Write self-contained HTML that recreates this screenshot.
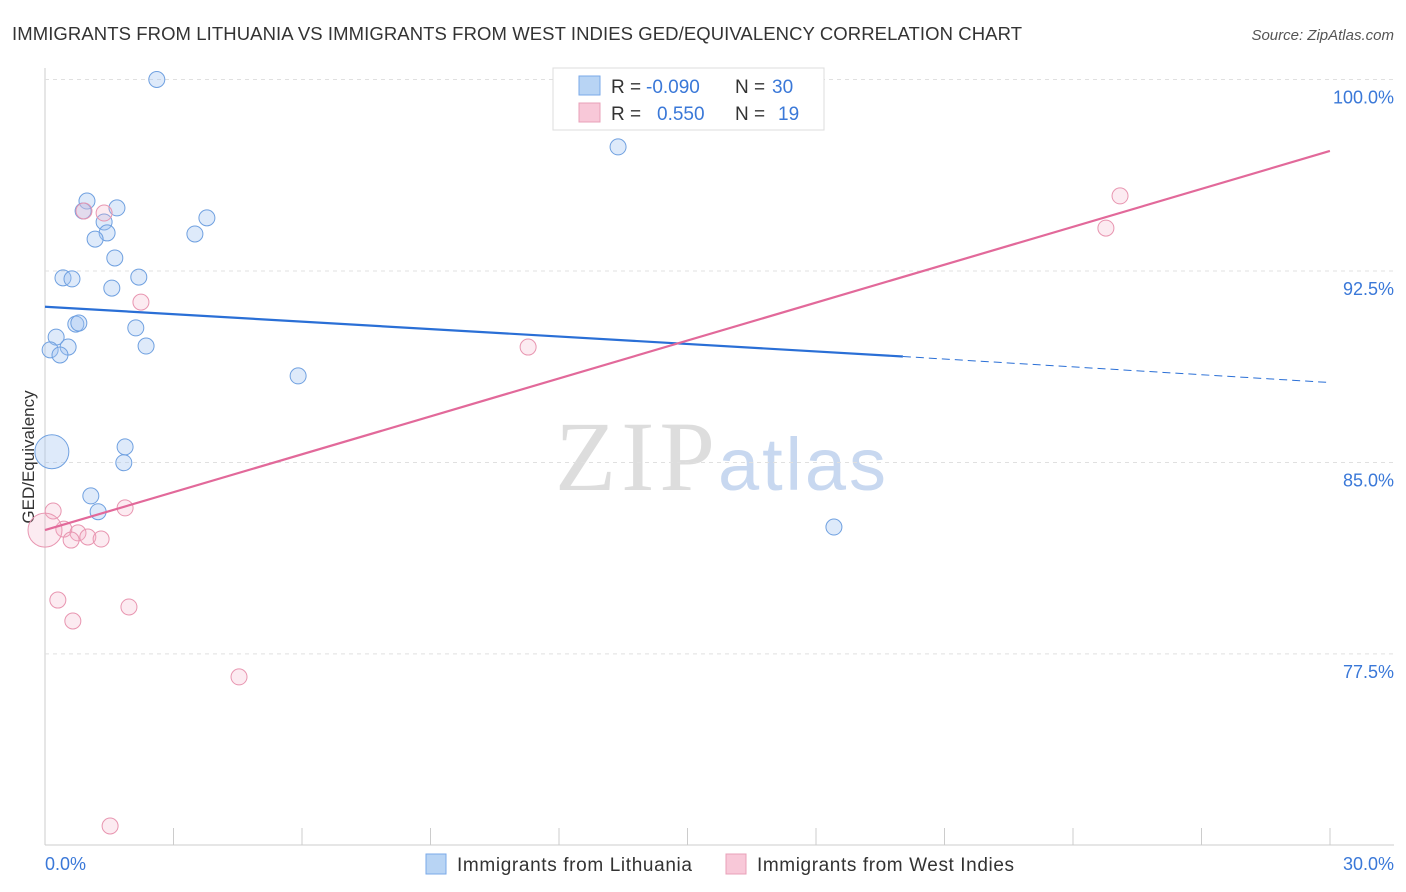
<!DOCTYPE html>
<html><head><meta charset="utf-8"><style>
body{margin:0;background:#fff;font-family:"Liberation Sans",sans-serif;}
#wrap{position:relative;width:1406px;height:892px;overflow:hidden}
</style></head><body><div id="wrap">
<svg id="svg" width="1406" height="892" xmlns="http://www.w3.org/2000/svg">
<text x="12" y="40" font-size="18.5" textLength="1010" fill="#333">IMMIGRANTS FROM LITHUANIA VS IMMIGRANTS FROM WEST INDIES GED/EQUIVALENCY CORRELATION CHART</text>
<text x="1394" y="40" font-size="15" fill="#555" font-style="italic" text-anchor="end">Source: ZipAtlas.com</text>
<text x="555" y="490" font-size="100" textLength="160" fill="#ddd" font-family="Liberation Serif,serif">ZIP</text>
<text x="718" y="490" font-size="74" textLength="168" fill="#c8d8f0">atlas</text>
<text transform="translate(34,457) rotate(-90)" font-size="17" fill="#333" text-anchor="middle">GED/Equivalency</text>
<g id="grid"></g><g id="marks"></g>
<g>
<rect x="553" y="68" width="271" height="62" fill="#fff" stroke="#ddd"/>
<rect x="579" y="76" width="21" height="19" fill="#b8d4f4" stroke="#7aaae8"/>
<rect x="579" y="103" width="21" height="19" fill="#f8c8d8" stroke="#e8a0b8"/>
<text x="611" y="93" font-size="19" fill="#333">R =</text>
<text x="646" y="93" font-size="19" fill="#3a78d8">-0.090</text>
<text x="735" y="93" font-size="19" fill="#333">N =</text>
<text x="772" y="93" font-size="19" fill="#3a78d8">30</text>
<text x="611" y="120" font-size="19" fill="#333">R =</text>
<text x="657" y="120" font-size="19" fill="#3a78d8">0.550</text>
<text x="735" y="120" font-size="19" fill="#333">N =</text>
<text x="778" y="120" font-size="19" fill="#3a78d8">19</text>
</g>
<rect x="426" y="854" width="20" height="20" fill="#b8d4f4" stroke="#7aaae8"/>
<text x="457" y="871" font-size="19" textLength="235" fill="#333">Immigrants from Lithuania</text>
<rect x="726" y="854" width="20" height="20" fill="#f8c8d8" stroke="#e8a0b8"/>
<text x="757" y="871" font-size="19" textLength="257" fill="#333">Immigrants from West Indies</text>
<text x="45" y="870" font-size="18" fill="#3a78d8">0.0%</text>
<text x="1394" y="870" font-size="18" fill="#3a78d8" text-anchor="end">30.0%</text>
</svg></div>
<script>
const yTicks=[100,92.5,85,77.5];
const yTickLabels=["100.0%","92.5%","85.0%","77.5%"];
const blueX=[2.61,13.38,0.98,1.68,0.89,3.78,1.38,1.45,3.50,1.17,1.63,0.42,0.63,2.19,1.56,0.72,0.79,0.26,2.12,2.36,0.54,0.12,0.35,5.91,0.16,1.87,1.84,1.07,1.24,18.42];
const blueY=[100.0,97.36,95.24,94.97,94.85,94.58,94.42,93.99,93.95,93.75,93.01,92.23,92.19,92.26,91.83,90.42,90.46,89.91,90.27,89.56,89.52,89.41,89.21,88.39,85.42,85.61,84.99,83.69,83.07,82.47];
const blueR=[8,8,8,8,8,8,8,8,8,8,8,8,8,8,8,8,8,8,8,8,8,8,8,8,17,8,8,8,8,8];
const pinkX=[25.10,24.77,0.91,1.38,2.24,11.28,0.19,1.87,0.44,0.0,0.77,0.61,1.00,1.31,0.30,1.96,0.65,4.53,1.52];
const pinkY=[95.44,94.18,94.85,94.77,91.28,89.52,83.10,83.22,82.39,82.35,82.24,81.96,82.08,82.00,79.61,79.34,78.79,76.60,70.76];
const pinkR=[8,8,8,8,8,8,8,8,8,17,8,8,8,8,8,8,8,8,8];
const blueTrend=[91.1,89.15,88.13];
const blueTrendX=[0,20.03,30];
const pinkTrend=[82.35,97.2];
const pinkTrendX=[0,30];
const X=v=>45+v*42.83, Y=v=>79.5+(100-v)*25.53;
const NS="http://www.w3.org/2000/svg";
function el(t,a,p){const e=document.createElementNS(NS,t);for(const k in a)e.setAttribute(k,a[k]);p.appendChild(e);return e;}
const g=document.getElementById('grid'),m=document.getElementById('marks');
let ax=el('line',{x1:45,y1:68,x2:45,y2:845,stroke:'#ccc'},g);


let bx=el('line',{x1:45,y1:845,x2:1394,y2:845,stroke:'#ccc'},g);


for(let i=0;i<=10;i++){const x=45+i*128.5;const t=el('line',{x1:x,y1:828,x2:x,y2:845,stroke:'#ccc'},g);

}
yTicks.forEach((v,i)=>{const l=el('line',{x1:45,y1:Y(v),x2:1394,y2:Y(v),stroke:'#e0e0e0','stroke-dasharray':'4,4'},g);


const t=el('text',{x:1394,y:Y(v)+24,'font-size':18,fill:'#3a78d8','text-anchor':'end'},g);t.textContent=yTickLabels[i];

});
blueX.forEach((v,i)=>{const c=el('circle',{cx:X(v),cy:Y(blueY[i]),r:blueR[i],fill:'rgba(160,196,240,0.35)',stroke:'#6fa0e0','stroke-width':1},m);

});
pinkX.forEach((v,i)=>{const c=el('circle',{cx:X(v),cy:Y(pinkY[i]),r:pinkR[i],fill:'rgba(244,176,200,0.25)',stroke:'#e895b0','stroke-width':1},m);

});
let l1=el('line',{x1:X(blueTrendX[0]),y1:Y(blueTrend[0]),x2:X(blueTrendX[1]),y2:Y(blueTrend[1]),stroke:'#2a6fd6','stroke-width':2.2},m);


let l2=el('line',{x1:X(blueTrendX[1]),y1:Y(blueTrend[1]),x2:X(blueTrendX[2]),y2:Y(blueTrend[2]),stroke:'#2a6fd6','stroke-width':1,'stroke-dasharray':'8,5'},m);


let l3=el('line',{x1:X(pinkTrendX[0]),y1:Y(pinkTrend[0]),x2:X(pinkTrendX[1]),y2:Y(pinkTrend[1]),stroke:'#e2699a','stroke-width':2.2},m);


</script></body></html>
